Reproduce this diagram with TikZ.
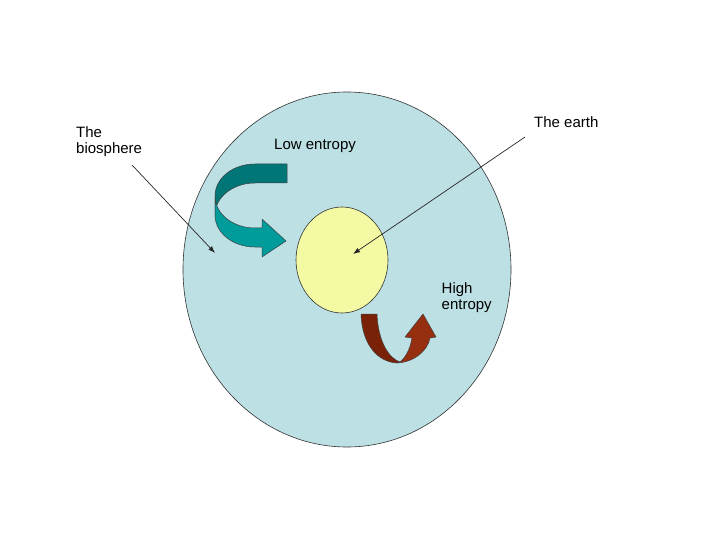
\documentclass[tikz,border=0pt]{standalone}
\usepackage{fontspec}
\setmainfont{Liberation Sans}
\usetikzlibrary{shapes.geometric,arrows.meta}
\definecolor{skyfill}{RGB}{188,224,228}
\definecolor{earthfill}{RGB}{243,250,163}
\definecolor{tealback}{RGB}{0,118,118}
\definecolor{tealfront}{RGB}{0,155,155}
\definecolor{rustback}{RGB}{122,34,8}
\definecolor{rustfront}{RGB}{150,46,16}
\tikzset{
  oval/.style={ellipse, draw=black!80, line width=0.6pt, inner sep=0pt},
  lbl/.style={inner sep=0pt, font=\fontsize{15}{16}\selectfont, align=left},
  ptr/.style={draw=black!85, line width=0.7pt, -{Latex[length=7pt,width=5pt]}},
  ribbon/.style={draw=black!75, line width=0.5pt, line join=round}
}

\begin{document}
\begin{tikzpicture}[x=1pt, y=-1pt]
  \useasboundingbox (0,0) rectangle (720,540);
  % ------------------------------------------------------------ biosphere and earth
  \node[oval, fill=skyfill, minimum width=328pt, minimum height=355pt] (biosphere) at (347,269.5) {};
  \node[oval, fill=earthfill, minimum width=92pt, minimum height=106pt] (earth) at (342,260) {};
  % ------------------------------------------------------------ low entropy ribbon (in)
  \filldraw[ribbon, fill=tealback] (287,164) -- (255,164) .. controls (233,164) and (215,178) .. (215,196)
    -- (215,215) .. controls (215,197) and (233,183) .. (255,183) -- (287,183) -- cycle;
  \filldraw[ribbon, fill=tealfront] (215,196) .. controls (215,214) and (233,228) .. (255,228) -- (262,228)
    -- (262,219) -- (286,241) -- (262,257) -- (262,247) -- (255,247)
    .. controls (233,247) and (215,233) .. (215,215) -- cycle;
  % ------------------------------------------------------------ high entropy ribbon (out)
  \filldraw[ribbon, fill=rustback] (361,314) -- (377,314) .. controls (378,340) and (388,358) .. (400,362)
    -- (397,363) .. controls (378,362) and (362,345) .. (361,314) -- cycle;
  \filldraw[ribbon, fill=rustfront] (397,363) .. controls (415,362) and (428,350) .. (430,338)
    -- (436,337) -- (423,314) -- (405,337) -- (412,338) .. controls (410,350) and (405,358) .. (400,362) -- cycle;
  % ------------------------------------------------------------ labels
  \node[lbl, anchor=north west] (biolabel) at (76,126) {The\\biosphere};
  \node[lbl, anchor=base west] (lowlabel) at (274,149.3) {Low entropy};
  \node[lbl, anchor=base west] (earthlabel) at (534,127.3) {The earth};
  \node[lbl, anchor=north west] (highlabel) at (441.5,282.5) {High\\entropy};
  % ------------------------------------------------------------ pointers
  \coordinate (biotail) at (132,165);
  \coordinate (biotip) at (215,253);
  \coordinate (earthtail) at (525,137);
  \coordinate (earthtip) at (353,254);
  \draw[ptr] (biotail) -- (biotip);
  \draw[ptr] (earthtail) -- (earthtip);
\end{tikzpicture}
\end{document}
